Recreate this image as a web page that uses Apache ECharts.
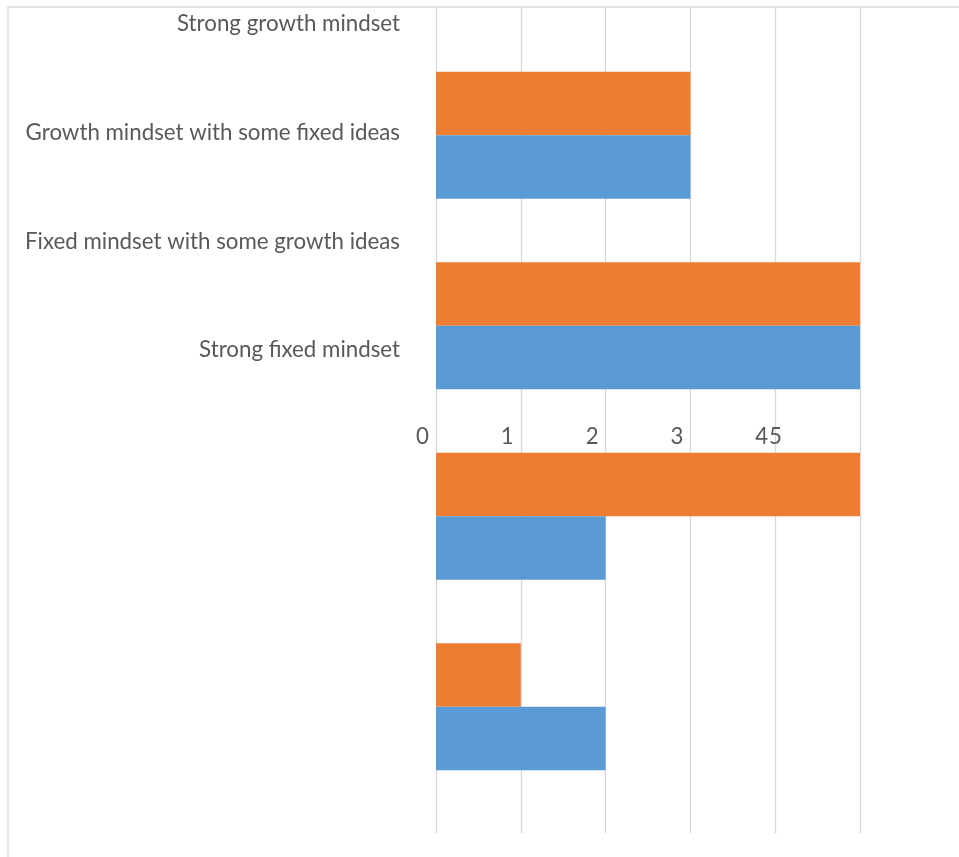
<!DOCTYPE html>
<html><head><meta charset="utf-8">
<script src="https://cdn.jsdelivr.net/npm/echarts@6/dist/echarts.min.js"></script>
<style>html,body{margin:0;padding:0;background:#fff}#c{width:959px;height:857px}</style>
</head><body><div id="c"></div>
<script>
const categories = ['Strong growth mindset','Growth mindset with some fixed ideas','Fixed mindset with some growth ideas','Strong fixed mindset'];
const orangeValues = [3, 5, 5, 1];
const blueValues = [3, 5, 2, 2];
const tickLabels = ['0','1','2','3','4','5'];

const FONT = 'Lato';
const FS = 22.3;
const chart = echarts.init(document.getElementById('c'));
chart.setOption({
  animation: false,
  backgroundColor: '#fff',
  grid: [
    {left: 436, right: 99, top: 7, bottom: 24},          // gridlines
    {left: 436, right: 99, top: 40, bottom: 55},         // bars
    {left: 436, right: 99, top: 24, height: 326},        // category labels
    {left: 436, right: 99, top: 7, height: 411},         // value labels
    {left: 8, top: 7, width: 1000, height: 1000, outerBoundsMode: 'none', containLabel: false,
     show: true, borderColor: '#d9d9d9', borderWidth: 1.3}
  ],
  xAxis: [
    {gridIndex: 0, type: 'value', min: 0, max: 5, interval: 1,
     axisLine: {show: false}, axisTick: {show: false}, axisLabel: {show: false},
     splitLine: {show: true, lineStyle: {color: '#d9d9d9', width: 1.3}}},
    {gridIndex: 1, type: 'value', min: 0, max: 5, interval: 1, show: false},
    {gridIndex: 2, type: 'value', min: 0, max: 5, show: false},
    {gridIndex: 3, type: 'value', min: 0, max: 5, interval: 1,
     axisLine: {show: false}, axisTick: {show: false}, splitLine: {show: false},
     axisLabel: {show: true, align: 'right', margin: 8, color: '#595959', fontFamily: FONT, fontSize: FS,
       padding: [0, 7, 0, 0],
       formatter: function (v) { const t = tickLabels[Math.round(v)]; return v === 5 ? '{b|' + t + '}' : t; },
       rich: {b: {padding: [0, 71, 0, 0], color: '#595959', fontFamily: FONT, fontSize: FS}}}},
    {gridIndex: 4, type: 'value', show: false}
  ],
  yAxis: [
    {gridIndex: 0, type: 'category', data: categories, show: false},
    {gridIndex: 1, type: 'category', data: categories, inverse: true, show: false},
    {gridIndex: 2, type: 'category', data: categories, inverse: true, boundaryGap: false,
     axisLine: {show: false}, axisTick: {show: false}, splitLine: {show: false},
     axisLabel: {show: true, margin: 36, color: '#595959', fontFamily: FONT, fontSize: FS}},
    {gridIndex: 3, type: 'category', data: categories, show: false},
    {gridIndex: 4, type: 'category', data: categories, show: false}
  ],
  series: [
    {type: 'bar', name: 'Series 2', xAxisIndex: 1, yAxisIndex: 1, data: orangeValues,
     itemStyle: {color: '#ED7D31'}, barGap: '0%', barCategoryGap: '33.3%'},
    {type: 'bar', name: 'Series 1', xAxisIndex: 1, yAxisIndex: 1, data: blueValues,
     itemStyle: {color: '#5B9BD5'}, barGap: '0%', barCategoryGap: '33.3%'}
  ]
});
</script></body></html>
